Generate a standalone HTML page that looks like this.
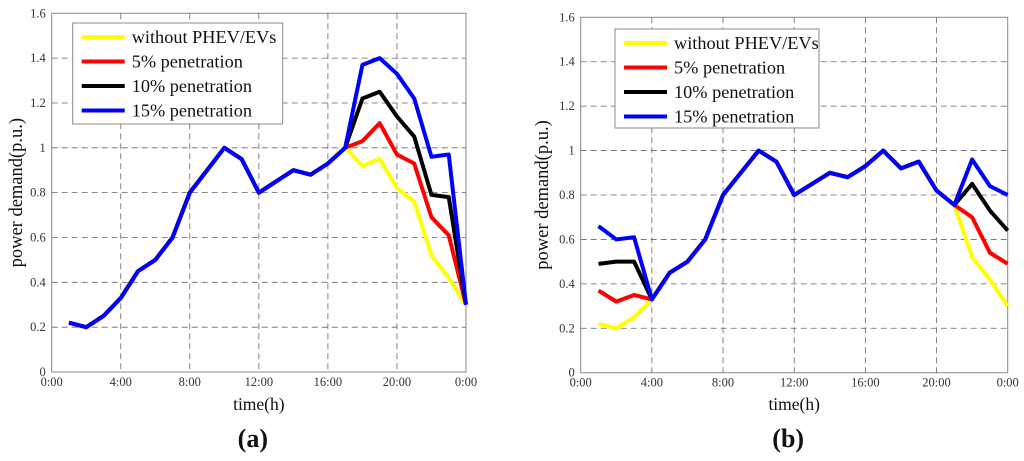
<!DOCTYPE html>
<html><head><meta charset="utf-8"><style>
body{margin:0;background:#fff;width:1024px;height:456px;overflow:hidden}
svg text{font-family:"Liberation Serif",serif}
</style></head><body>
<svg id="s" width="1024" height="456" xmlns="http://www.w3.org/2000/svg"></svg>
<script>
const hours=[1,2,3,4,5,6,7,8,9,10,11,12,13,14,15,16,17,18,19,20,21,22,23,24];
const yTicks=[0,0.2,0.4,0.6,0.8,1,1.2,1.4,1.6];
const yTickLabels=["0","0.2","0.4","0.6","0.8","1","1.2","1.4","1.6"];
const xTicks=[0,4,8,12,16,20,24];
const xTickLabels=["0:00","4:00","8:00","12:00","16:00","20:00","0:00"];
const seriesNames=["without PHEV/EVs","5% penetration","10% penetration","15% penetration"];
const seriesColors=["#ffff00","#ff0000","#000000","#0000ff"];
const aYellow=[0.22,0.2,0.25,0.33,0.45,0.5,0.6,0.8,0.9,1.0,0.95,0.8,0.85,0.9,0.88,0.93,1.0,0.92,0.95,0.82,0.76,0.52,0.42,0.3];
const aRed=[0.22,0.2,0.25,0.33,0.45,0.5,0.6,0.8,0.9,1.0,0.95,0.8,0.85,0.9,0.88,0.93,1.0,1.03,1.11,0.97,0.93,0.69,0.61,0.3];
const aBlack=[0.22,0.2,0.25,0.33,0.45,0.5,0.6,0.8,0.9,1.0,0.95,0.8,0.85,0.9,0.88,0.93,1.0,1.22,1.25,1.14,1.05,0.79,0.78,0.3];
const aBlue=[0.22,0.2,0.25,0.33,0.45,0.5,0.6,0.8,0.9,1.0,0.95,0.8,0.85,0.9,0.88,0.93,1.0,1.37,1.4,1.33,1.22,0.96,0.97,0.3];
const bYellow=[0.22,0.2,0.25,0.33,0.45,0.5,0.6,0.8,0.9,1.0,0.95,0.8,0.85,0.9,0.88,0.93,1.0,0.92,0.95,0.82,0.755,0.52,0.42,0.3];
const bRed=[0.37,0.32,0.35,0.33,0.45,0.5,0.6,0.8,0.9,1.0,0.95,0.8,0.85,0.9,0.88,0.93,1.0,0.92,0.95,0.82,0.755,0.7,0.54,0.49];
const bBlack=[0.49,0.5,0.5,0.33,0.45,0.5,0.6,0.8,0.9,1.0,0.95,0.8,0.85,0.9,0.88,0.93,1.0,0.92,0.95,0.82,0.755,0.85,0.73,0.64];
const bBlue=[0.66,0.6,0.61,0.33,0.45,0.5,0.6,0.8,0.9,1.0,0.95,0.8,0.85,0.9,0.88,0.93,1.0,0.92,0.95,0.82,0.755,0.96,0.84,0.8];

const S=document.getElementById('s');
const NS="http://www.w3.org/2000/svg";
function mk(t,a,p){const e=document.createElementNS(NS,t);for(const k in a)e.setAttribute(k,a[k]);(p||S).appendChild(e);return e;}

function chart(id,L,R,T,B,series,lg,label,yl){
  const g=mk('g',{});
  
  
  const X=h=>L+(h/24)*(R-L), Y=v=>B-(v/1.6)*(B-T);
  mk('rect',{x:L,y:T,width:R-L,height:B-T,fill:'#fff',stroke:'#888','stroke-width':1},g);
  yTicks.forEach((v,i)=>{
    if(v>0&&v<1.6){const l=mk('line',{x1:L,x2:R,y1:Y(v),y2:Y(v),stroke:'#666','stroke-dasharray':'6,4','stroke-width':0.8},g);
    }
    const t=mk('text',{x:L-6,y:Y(v)+4,'text-anchor':'end','font-size':12.5,fill:'#333'},g);t.textContent=yTickLabels[i];
    
  });
  xTicks.forEach((h,i)=>{
    if(h>0&&h<24){const l=mk('line',{x1:X(h),x2:X(h),y1:T,y2:B,stroke:'#666','stroke-dasharray':'6,4','stroke-width':0.8},g);
    }
    const t=mk('text',{x:X(h),y:B+14,'text-anchor':'middle','font-size':12.5,fill:'#333'},g);t.textContent=xTickLabels[i];
    
  });
  series.forEach((arr,si)=>{
    const p=mk('polyline',{points:hours.map((h,i)=>X(h)+','+Y(arr[i])).join(' '),fill:'none',stroke:seriesColors[si],'stroke-width':4,'stroke-linejoin':'round'},g);
    
  });
  const lgG=mk('g',{},g);
  
  
  mk('rect',{x:lg[0],y:lg[1],width:lg[2],height:lg[3],fill:'#fff',stroke:'#888','stroke-width':1},lgG);
  seriesNames.forEach((n,i)=>{
    const yy=lg[1]+14+i*24.5;
    mk('line',{x1:lg[0]+9,x2:lg[0]+52,y1:yy,y2:yy,stroke:seriesColors[i],'stroke-width':4},lgG);
    const t=mk('text',{x:lg[0]+59,y:yy+6,'font-size':18.3,fill:'#111'},lgG);t.textContent=n;
    
  });
  const yt=mk('text',{x:0,y:0,'text-anchor':'middle','font-size':18.5,fill:'#111',transform:`translate(${yl},${(T+B)/2}) rotate(-90)`},g);
  yt.textContent='power demand(p.u.)';
  const xt=mk('text',{x:(L+R)/2,y:410,'text-anchor':'middle','font-size':17.5,fill:'#111'},g);
  xt.textContent='time(h)';
  const pl=mk('text',{x:(L+R)/2-6,y:447,'text-anchor':'middle','font-size':26,'font-weight':'bold',fill:'#111'},g);
  pl.textContent=label;
}
chart('a',51.7,466,13.3,372,[aYellow,aRed,aBlack,aBlue],[72.7,23,210,101],'(a)',22);
chart('b',580.7,1007.7,17.3,372.7,[bYellow,bRed,bBlack,bBlue],[615,29,204,99],'(b)',548);
</script>
</body></html>
